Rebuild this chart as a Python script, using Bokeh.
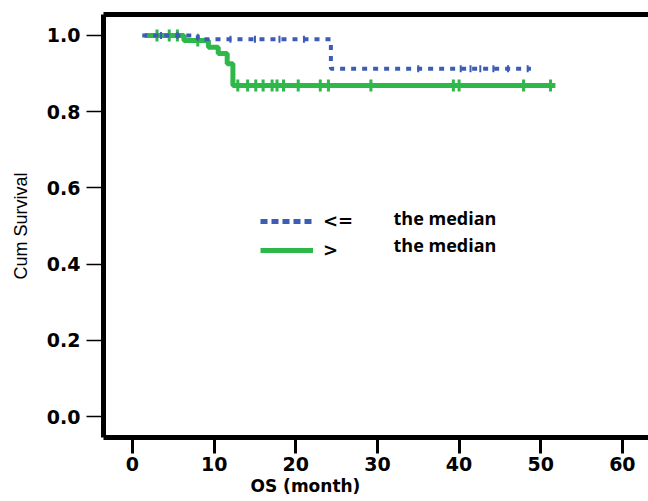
import math
from bokeh.plotting import figure
from bokeh.models import (Range1d, FixedTicker, LinearAxis, Legend, LegendItem,
                          Label, NumeralTickFormatter, Title)
from bokeh.embed import file_html
from bokeh.resources import INLINE

# ---- data ----
low_time = [1.2, 8.0, 24.3, 48.8]
low_surv = [1.0, 0.99, 0.913, 0.913]
low_cens = [3.5, 5.5, 12.0, 15.0, 18.0, 21.0, 35.0, 40.2, 41.4, 42.6, 44.2, 46.0, 48.4]

high_time = [1.5, 6.3, 9.3, 10.5, 11.6, 12.3, 51.8]
high_surv = [1.0, 0.987, 0.969, 0.953, 0.926, 0.869, 0.869]
high_cens = [3.0, 4.5, 5.5, 8.0, 12.9, 14.1, 15.1, 16.0, 17.1, 17.7, 18.5, 20.3,
             23.0, 24.0, 29.2, 39.3, 40.0, 47.9, 51.2]

x_ticks = [0, 10, 20, 30, 40, 50, 60]
y_ticks = [0.0, 0.2, 0.4, 0.6, 0.8, 1.0]
labels = ["<=", ">"]
label_suffix = "the median"
x_title = "OS (month)"
y_title = "Cum Survival"

BLUE = "#3c5cb6"
GREEN = "#2fb84a"
NAN = float("nan")


def surv_at(times, survs, t):
    s = survs[0]
    for ti, si in zip(times, survs):
        if ti <= t:
            s = si
    return s


low_cens_y = [surv_at(low_time, low_surv, t) for t in low_cens]
high_cens_y = [surv_at(high_time, high_surv, t) for t in high_cens]

p = figure(width=648, height=501, output_backend="svg", toolbar_location=None,
           x_range=Range1d(-3.55, 63.2), y_range=Range1d(-0.0551, 1.0551),
           min_border_left=103, min_border_right=0, min_border_top=14,
           min_border_bottom=64)
p.background_fill_color = "white"
p.border_fill_color = "white"
p.outline_line_color = None
p.grid.visible = False

TICK_FONT = "DejaVu Sans"

# x axis
xa = p.xaxis[0]
xa.ticker = FixedTicker(ticks=x_ticks)
xa.axis_line_width = 5
xa.axis_line_color = "black"
xa.major_tick_line_width = 3
xa.major_tick_out = 16
xa.major_tick_in = 0
xa.minor_tick_line_color = None
xa.major_label_standoff = 3
xa.major_label_text_font = TICK_FONT
xa.major_label_text_font_style = "bold"
xa.major_label_text_font_size = "19px"
xa.major_label_text_color = "black"

# x axis title, placed below the axis with a left offset (as in the reference)
p.add_layout(Title(text=x_title, align="left", offset=147, standoff=0,
                   text_font=TICK_FONT, text_font_style="bold",
                   text_font_size="17px", text_color="black"), "below")

# y axis
ya = p.yaxis[0]
ya.ticker = FixedTicker(ticks=y_ticks)
ya.formatter = NumeralTickFormatter(format="0.0")
ya.axis_line_width = 5
ya.axis_line_color = "black"
ya.major_tick_line_width = 1.5
ya.major_tick_out = 17
ya.major_tick_in = 0
ya.minor_tick_line_color = None
ya.major_label_standoff = 6
ya.major_label_text_font = TICK_FONT
ya.major_label_text_font_style = "bold"
ya.major_label_text_font_size = "19px"
ya.major_label_text_color = "black"
ya.axis_label = y_title
ya.axis_label_text_font = "Liberation Sans"
ya.axis_label_text_font_style = "normal"
ya.axis_label_text_font_size = "18px"
ya.axis_label_text_color = "black"
ya.axis_label_standoff = 13

# top border as an axis without ticks
top = LinearAxis(ticker=FixedTicker(ticks=[]), axis_line_width=5, axis_line_color="black",
                 major_tick_line_color=None, minor_tick_line_color=None,
                 major_tick_out=0, major_label_standoff=0,
                 major_label_text_font_size="0px")
p.add_layout(top, "above")

# curves
g_line = p.step(high_time, high_surv, mode="after", line_color=GREEN, line_width=5)
p.scatter(high_cens, high_cens_y, marker="dash", angle=math.pi / 2, size=12,
          line_color=GREEN, line_width=3)
b_line = p.step(low_time, low_surv, mode="after", line_color=BLUE, line_width=4,
                line_dash="5 6")
p.scatter(low_cens, low_cens_y, marker="dash", angle=math.pi / 2, size=7,
          line_color=BLUE, line_width=2)

# legend-only renderers (single NaN point, nothing drawn in the plot)
lb = p.line(x=[NAN], y=[NAN], line_color=BLUE, line_width=5, line_dash="7 4")
lg = p.line(x=[NAN], y=[NAN], line_color=GREEN, line_width=5)
legend = Legend(items=[LegendItem(label=labels[0], renderers=[lb]),
                       LegendItem(label=labels[1], renderers=[lg])],
                location=(157, 177), glyph_width=53, glyph_height=20,
                label_height=20, label_standoff=10, spacing=8, padding=0, margin=0,
                border_line_color=None, background_fill_alpha=0,
                label_text_font=TICK_FONT, label_text_font_style="bold",
                label_text_font_size="18px", label_text_color="black")
p.add_layout(legend, "center")

for yv in [0.52, 0.451]:
    p.add_layout(Label(x=31.97, y=yv, text=label_suffix, text_align="left",
                       text_baseline="middle", text_font="Open Sans",
                       text_font_style="bold", text_font_size="18px",
                       text_color="black"))

open("out.html", "w").write(file_html(p, INLINE))
